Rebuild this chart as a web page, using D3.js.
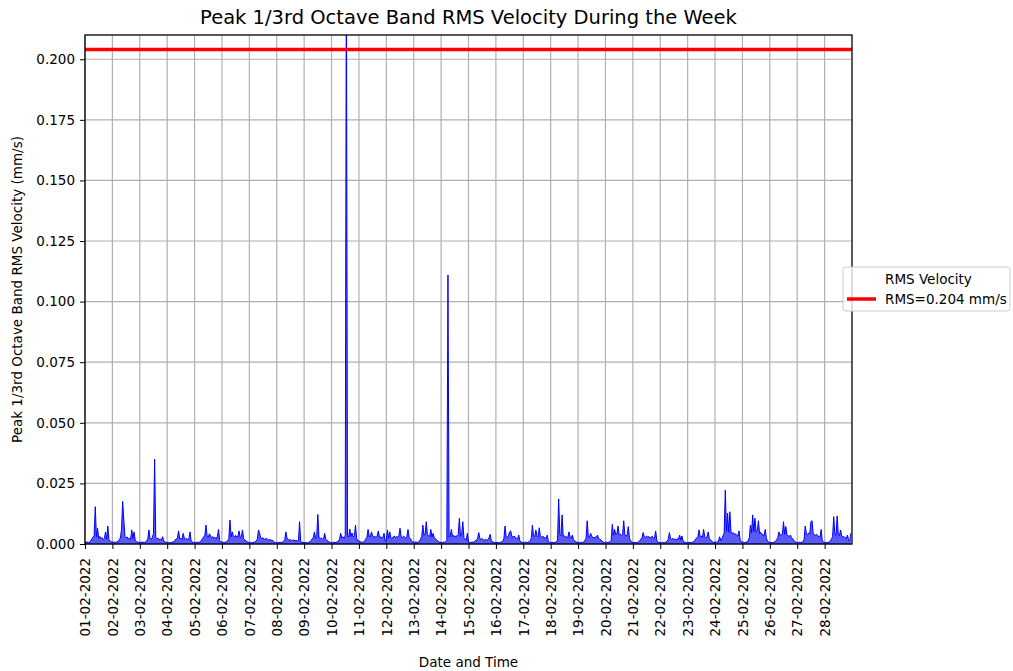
<!DOCTYPE html>
<html>
<head>
<meta charset="utf-8">
<script src="https://cdn.jsdelivr.net/npm/d3@7"></script>
<style>
  html, body { margin: 0; padding: 0; background: #ffffff; }
  svg { display: block; font-family: "DejaVu Sans", sans-serif; }
</style>
</head>
<body>
<svg id="chart" width="1013" height="671"></svg>
<script>
// Hourly peak 1/3rd octave band RMS velocity, in µm/s (0.001 mm/s), one row per day of February 2022
const hourlyPeakUm = [
  /* 01 */ [0.8,0.6,0.9,0.7,0.8,1.2,2.1,2.8,3.5,15.4,3.0,6.5,2.4,3.1,2.2,2.6,1.9,2.3,5.0,2.0,7.4,1.6,1.2,0.9],
  /* 02 */ [0.9,0.7,0.8,0.6,0.9,1.1,1.8,2.5,6.0,17.6,9.9,3.2,2.6,2.9,2.1,2.4,2.0,5.8,2.2,5.0,1.5,1.1,0.8,0.7],
  /* 03 */ [0.7,0.6,0.8,0.7,0.6,0.9,1.4,2.0,5.8,2.3,2.0,2.6,4.4,35.0,2.8,2.1,2.4,1.8,2.0,1.6,3.0,1.2,0.9,0.7],
  /* 04 */ [0.6,0.7,0.5,0.6,0.7,0.8,1.0,1.6,2.2,2.6,5.4,2.1,2.4,1.9,4.4,2.5,2.0,2.3,1.7,2.0,5.0,1.3,0.8,0.6],
  /* 05 */ [0.7,0.6,0.8,0.6,0.7,0.9,1.5,2.2,3.0,3.6,7.8,3.1,2.8,4.2,3.3,2.6,3.0,2.4,2.7,2.1,3.2,6.0,1.4,0.9],
  /* 06 */ [0.8,0.7,0.6,0.8,0.9,1.4,2.2,9.9,3.0,5.0,3.4,2.8,3.6,2.9,3.1,5.4,2.6,3.0,5.8,2.2,1.8,1.3,0.9,0.7],
  /* 07 */ [0.6,0.7,0.5,0.6,0.7,0.9,1.3,2.0,5.8,4.4,2.5,2.2,2.6,1.9,2.1,2.4,1.8,1.6,2.0,1.4,1.7,1.1,0.8,0.6],
  /* 08 */ [0.6,0.5,0.6,0.7,0.6,0.8,1.1,1.7,5.0,2.3,1.9,1.6,1.8,1.4,1.5,1.7,1.3,1.5,1.2,1.4,9.2,1.0,0.7,0.6],
  /* 09 */ [0.6,0.7,0.5,0.6,0.7,0.9,1.4,2.1,2.6,5.0,2.4,3.0,12.2,2.7,2.3,2.5,2.0,2.2,4.4,1.8,1.5,1.1,0.8,0.6],
  /* 10 */ [0.7,0.6,0.8,0.6,0.7,0.9,1.3,2.0,4.4,2.6,3.0,2.4,3.3,250,3.5,2.8,6.2,3.1,4.5,2.9,3.4,7.8,2.2,1.5],
  /* 11 */ [1.2,0.9,0.8,0.7,0.9,1.2,2.0,2.8,6.0,3.2,2.9,5.0,3.4,2.8,3.1,2.7,3.3,5.4,2.6,3.0,2.4,2.9,4.4,1.2],
  /* 12 */ [1.5,5.8,2.4,5.0,2.6,2.2,2.9,3.3,2.7,3.1,2.8,3.4,6.5,3.0,2.6,3.2,2.9,2.5,3.1,6.0,2.7,2.3,1.4,0.9],
  /* 13 */ [0.8,0.7,0.9,0.6,0.8,1.1,2.0,3.0,7.8,3.6,4.2,9.2,3.9,3.4,3.1,6.0,2.8,4.4,2.5,2.2,1.8,1.3,0.9,0.7],
  /* 14 */ [0.7,0.6,0.8,0.7,0.9,1.5,111,2.8,3.3,6.0,3.0,3.6,2.9,3.4,3.1,3.8,10.6,3.2,3.5,9.2,2.6,2.1,1.6,4.4],
  /* 15 */ [0.9,0.7,0.6,0.8,0.7,0.9,1.2,1.8,2.4,4.7,2.2,1.9,2.3,1.7,1.6,2.0,1.5,1.8,2.6,4.0,1.3,1.0,0.8,0.6],
  /* 16 */ [0.6,0.7,0.5,0.6,0.7,0.8,1.3,2.1,7.4,3.0,2.7,3.4,5.0,5.4,3.1,2.8,3.3,2.6,2.4,2.2,3.7,1.3,0.8,0.6],
  /* 17 */ [0.7,0.6,0.8,0.7,0.6,0.9,1.4,2.3,7.8,3.2,3.0,5.8,3.4,2.9,6.7,3.1,2.8,3.3,2.5,2.7,2.2,3.7,1.0,0.7],
  /* 18 */ [0.6,0.7,0.6,0.5,0.7,0.9,1.6,18.6,4.0,3.5,12.0,3.1,3.4,2.8,3.0,2.6,5.0,2.9,2.4,3.7,1.9,1.4,0.9,0.7],
  /* 19 */ [0.7,0.6,0.5,0.7,0.6,0.8,1.5,2.4,9.6,3.0,2.7,4.4,3.1,2.8,2.5,2.9,2.6,3.7,2.3,2.0,1.7,1.2,0.8,0.6],
  /* 20 */ [0.7,0.8,0.6,0.7,0.9,1.4,8.1,3.6,6.0,3.9,4.2,7.4,3.8,4.1,3.5,3.9,9.6,3.7,3.3,3.6,7.2,2.4,1.3,0.8],
  /* 21 */ [0.6,0.7,0.5,0.6,0.7,0.9,1.3,2.0,2.6,4.7,3.0,2.7,3.3,2.9,3.1,2.5,2.8,3.2,2.4,2.6,5.4,1.4,0.8,0.6],
  /* 22 */ [0.6,0.5,0.7,0.6,0.5,0.8,1.2,1.9,4.7,2.3,2.0,2.4,1.8,2.1,1.7,2.2,1.9,3.7,1.6,3.3,1.2,0.9,0.7,0.6],
  /* 23 */ [0.6,0.7,0.6,0.5,0.7,0.9,1.4,2.0,2.6,3.1,5.8,2.9,3.3,2.7,6.0,3.0,2.6,2.8,5.0,2.2,1.8,1.2,0.8,0.6],
  /* 24 */ [0.8,0.7,0.9,1.1,3.0,1.4,2.2,3.4,4.5,22.3,5.2,12.7,4.8,13.3,5.0,4.3,4.7,3.9,4.2,3.6,3.3,5.4,1.6,0.9],
  /* 25 */ [0.7,0.8,0.6,0.7,0.9,1.3,2.5,7.8,4.6,12.0,5.1,10.6,4.9,5.3,9.6,4.4,4.8,4.1,3.8,3.5,6.0,2.3,1.2,0.8],
  /* 26 */ [0.6,0.7,0.5,0.7,0.8,1.1,1.8,2.7,5.0,3.6,3.9,4.2,9.2,4.0,7.2,3.8,3.4,3.1,3.7,2.6,2.2,1.5,0.9,0.7],
  /* 27 */ [0.7,0.6,0.8,0.6,0.7,1.0,1.7,7.4,4.2,3.8,4.5,4.1,9.2,9.6,4.3,3.9,3.6,4.0,3.4,3.1,2.8,6.0,1.3,0.8],
  /* 28 */ [0.6,0.7,0.5,0.6,0.8,1.2,2.0,3.1,11.3,4.0,3.6,11.6,3.8,3.4,5.8,3.2,2.9,3.1,2.6,2.3,3.7,1.8,1.1,4.4]
];

// RMS threshold line (mm/s)
const rmsLimit = 0.204;

// Axis tick values
const yTickValues = [0, 0.025, 0.05, 0.075, 0.1, 0.125, 0.15, 0.175, 0.2];
const xStart = new Date(2022, 1, 1);
const xEnd = new Date(2022, 2, 1);
const xTickDays = d3.timeDay.range(new Date(2022, 1, 1), new Date(2022, 1, 29));

const titleText = "Peak 1/3rd Octave Band RMS Velocity During the Week";
const xLabelText = "Date and Time";
const yLabelText = "Peak 1/3rd Octave Band RMS Velocity (mm/s)";
const legendLabels = ["RMS Velocity", "RMS=0.204 mm/s"];

// Flatten the rows into a time series in mm/s
const series = [];
hourlyPeakUm.forEach((row, d) => {
  row.forEach((v, h) => {
    if (v != null) series.push({ t: new Date(2022, 1, 1 + d, h), v: v / 1000 });
  });
});

const svg = d3.select("#chart");
const margin = { left: 85, right: 161, top: 35, bottom: 127 };
const W = 1013, H = 671;
const x0 = margin.left, x1 = W - margin.right, y0 = margin.top, y1 = H - margin.bottom;

const x = d3.scaleTime().domain([xStart, xEnd]).range([x0, x1]);
const y = d3.scaleLinear().domain([0, 0.21]).range([y1, y0]);

// Grid
const grid = svg.append("g").attr("stroke", "#b0b0b0").attr("stroke-width", 1.2);
grid.selectAll("line.v").data(xTickDays).join("line")
  .attr("x1", d => x(d)).attr("x2", d => x(d)).attr("y1", y0).attr("y2", y1);
grid.selectAll("line.h").data(yTickValues).join("line")
  .attr("x1", x0).attr("x2", x1).attr("y1", d => y(d)).attr("y2", d => y(d));

// Clip to plot area
svg.append("clipPath").attr("id", "plotClip").append("rect")
  .attr("x", x0).attr("y", y0).attr("width", x1 - x0).attr("height", y1 - y0);

const plot = svg.append("g").attr("clip-path", "url(#plotClip)");

// Dense sampling reads as a filled band under the trace
plot.append("path").datum(series)
  .attr("fill", "#0000ff").attr("fill-opacity", 0.65)
  .attr("d", d3.area().x(d => x(d.t)).y0(y(0)).y1(d => y(d.v)));

plot.append("path").datum(series)
  .attr("fill", "none").attr("stroke", "#0000ff").attr("stroke-width", 1)
  .attr("d", d3.line().x(d => x(d.t)).y(d => y(d.v)));

plot.append("line")
  .attr("x1", x0).attr("x2", x1).attr("y1", y(rmsLimit)).attr("y2", y(rmsLimit))
  .attr("stroke", "#ff0000").attr("stroke-width", 3.5);

// Axes
const fontSize = 13.5;
const yAxis = svg.append("g").attr("transform", `translate(${x0},0)`)
  .call(d3.axisLeft(y).tickValues(yTickValues).tickFormat(d3.format(".3f")).tickSize(5).tickPadding(5));
const xAxis = svg.append("g").attr("transform", `translate(0,${y1})`)
  .call(d3.axisBottom(x).tickValues(xTickDays).tickFormat(d3.timeFormat("%d-%m-%Y")).tickSize(5).tickPadding(5));

[xAxis, yAxis].forEach(g => {
  g.select(".domain").remove();
  g.selectAll(".tick line").attr("stroke", "#000").attr("stroke-width", 1);
  g.selectAll(".tick text").attr("fill", "#000").style("font-size", fontSize + "px")
    .style("font-family", "DejaVu Sans");
});
xAxis.selectAll(".tick text")
  .attr("transform", "rotate(-90)")
  .attr("text-anchor", "end")
  .attr("x", -14).attr("y", 0).attr("dy", "0.35em");

// Frame
svg.append("rect").attr("x", x0).attr("y", y0).attr("width", x1 - x0).attr("height", y1 - y0)
  .attr("fill", "none").attr("stroke", "#000").attr("stroke-width", 1.3);

// Title and labels
svg.append("text").attr("x", (x0 + x1) / 2).attr("y", 24).attr("text-anchor", "middle")
  .style("font-size", "19.5px").text(titleText);
svg.append("text").attr("x", (x0 + x1) / 2).attr("y", 667).attr("text-anchor", "middle")
  .style("font-size", "13.5px").text(xLabelText);
svg.append("text").attr("transform", `translate(22,${(y0 + y1) / 2}) rotate(-90)`)
  .attr("text-anchor", "middle").style("font-size", "13.5px").text(yLabelText);

// Legend
const lg = svg.append("g").attr("transform", "translate(843,267)");
lg.append("rect").attr("width", 167).attr("height", 44).attr("rx", 3)
  .attr("fill", "#ffffff").attr("fill-opacity", 0.8).attr("stroke", "#cccccc");
lg.append("line").attr("x1", 4).attr("x2", 33).attr("y1", 32).attr("y2", 32)
  .attr("stroke", "#ff0000").attr("stroke-width", 3.5);
lg.selectAll("text.lbl").data(legendLabels).join("text")
  .attr("x", 42).attr("y", (d, i) => 12 + i * 20).attr("dy", "0.35em")
  .style("font-size", "13.5px").text(d => d);
</script>
</body>
</html>
